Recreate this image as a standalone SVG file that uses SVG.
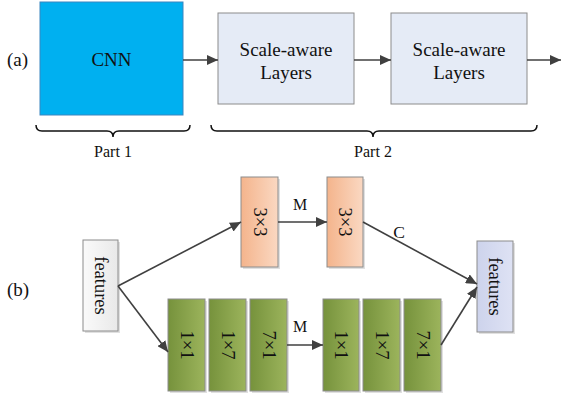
<svg xmlns="http://www.w3.org/2000/svg" width="561" height="401" viewBox="0 0 561 401">
<defs>
<style>
.t18{font-size:18.5px;text-anchor:middle;}
.t19{font-size:19px;text-anchor:middle;}
.t15{font-size:16px;text-anchor:middle;}
.lbl{font-size:19px;}
.box{stroke:#8c8c8c;stroke-width:1;}
.sh{fill:#000;opacity:0.12;}
.con{stroke:#404040;stroke-width:1.6;fill:none;}
.brace{stroke:#111;stroke-width:1.5;fill:none;}
</style>
<marker id="ah" markerUnits="userSpaceOnUse" markerWidth="12" markerHeight="10" refX="11" refY="5" orient="auto">
<path d="M0,0 L11,5 L0,10 Z" fill="#404040"/>
</marker>
<linearGradient id="gOr" x1="0" y1="0" x2="1" y2="0">
<stop offset="0" stop-color="#F4B48C"/><stop offset="1" stop-color="#FAD8C2"/>
</linearGradient>
<linearGradient id="gGr" x1="0" y1="0" x2="1" y2="0">
<stop offset="0" stop-color="#76923C"/><stop offset="1" stop-color="#9CB45C"/>
</linearGradient>
<linearGradient id="gLv" x1="0" y1="0" x2="1" y2="0">
<stop offset="0" stop-color="#CDD3EC"/><stop offset="1" stop-color="#DEE2F4"/>
</linearGradient>
<linearGradient id="gWh" x1="0" y1="0" x2="1" y2="0">
<stop offset="0" stop-color="#FAFAFA"/><stop offset="1" stop-color="#E9E9E9"/>
</linearGradient>
</defs>
<g font-family="Liberation Serif, DejaVu Serif, serif" fill="#111">
<text class="lbl" x="7" y="66">(a)</text>
<text class="lbl" x="7" y="296">(b)</text>

<g id="cnn">
<rect x="40" y="2" width="143" height="113" fill="#00B0F0" stroke="#3a86c0" stroke-width="1"/>
<text class="t19" x="111.5" y="66">CNN</text>
</g>
<g id="scale1">
<rect class="box" x="218" y="13" width="136" height="91" fill="#E5EBF6"/>
<text class="t19" x="286" y="56">Scale-aware</text>
<text class="t19" x="286" y="79">Layers</text>
</g>
<g id="scale2">
<rect class="box" x="391" y="13" width="136" height="91" fill="#E5EBF6"/>
<text class="t19" x="459" y="56">Scale-aware</text>
<text class="t19" x="459" y="79">Layers</text>
</g>

<g id="part1">
<path class="brace" d="M36,125 Q36,131 42,131 H107 Q113,131 113,137 Q113,131 119,131 H184 Q190,131 190,125"/>
<text class="t15" x="113" y="157">Part 1</text>
</g>
<g id="part2">
<path class="brace" d="M211,125 Q211,131 217,131 H367 Q373,131 373,137 Q373,131 379,131 H531 Q537,131 537,125"/>
<text class="t15" x="373" y="157">Part 2</text>
</g>

<g id="featL">
<rect class="sh" x="85" y="242" width="35" height="91"/>
<rect class="box" x="83" y="240" width="35" height="91" fill="url(#gWh)"/>
<text class="t18" transform="translate(100.5,285.5) rotate(90)" y="6">features</text>
</g>
<g id="or1">
<rect class="sh" x="243" y="179" width="37" height="90"/>
<rect class="box" x="241" y="177" width="37" height="90" fill="url(#gOr)"/>
<text class="t18" transform="translate(259.5,222) rotate(90)" y="6">3×3</text>
</g>
<g id="or2">
<rect class="sh" x="329" y="179" width="36" height="90"/>
<rect class="box" x="327" y="177" width="36" height="90" fill="url(#gOr)"/>
<text class="t18" transform="translate(345,222) rotate(90)" y="6">3×3</text>
</g>
<g id="gr1">
<rect class="sh" x="170" y="301" width="37" height="92"/>
<rect class="box" x="168" y="299" width="37" height="92" fill="url(#gGr)"/>
<text class="t18" transform="translate(186.5,345) rotate(90)" y="6">1×1</text>
</g>
<g id="gr2">
<rect class="sh" x="211" y="301" width="37" height="92"/>
<rect class="box" x="209" y="299" width="37" height="92" fill="url(#gGr)"/>
<text class="t18" transform="translate(227.5,345) rotate(90)" y="6">1×7</text>
</g>
<g id="gr3">
<rect class="sh" x="252" y="301" width="37" height="92"/>
<rect class="box" x="250" y="299" width="37" height="92" fill="url(#gGr)"/>
<text class="t18" transform="translate(268.5,345) rotate(90)" y="6">7×1</text>
</g>
<g id="gr4">
<rect class="sh" x="325" y="301" width="36" height="92"/>
<rect class="box" x="323" y="299" width="36" height="92" fill="url(#gGr)"/>
<text class="t18" transform="translate(341,345) rotate(90)" y="6">1×1</text>
</g>
<g id="gr5">
<rect class="sh" x="365" y="301" width="37" height="92"/>
<rect class="box" x="363" y="299" width="37" height="92" fill="url(#gGr)"/>
<text class="t18" transform="translate(381.5,345) rotate(90)" y="6">1×7</text>
</g>
<g id="gr6">
<rect class="sh" x="406" y="301" width="37" height="92"/>
<rect class="box" x="404" y="299" width="37" height="92" fill="url(#gGr)"/>
<text class="t18" transform="translate(422.5,345) rotate(90)" y="6">7×1</text>
</g>
<g id="featR">
<rect class="sh" x="479" y="243" width="36" height="91"/>
<rect class="box" x="477" y="241" width="36" height="91" fill="url(#gLv)"/>
<text class="t18" transform="translate(495,286.5) rotate(90)" y="6">features</text>
</g>

<g id="connectors">
<path class="con" d="M183,60 H218" marker-end="url(#ah)"/>
<path class="con" d="M354,60 H391" marker-end="url(#ah)"/>
<path class="con" d="M527,60 H561" marker-end="url(#ah)"/>
<path class="con" d="M118,286 L241,222" marker-end="url(#ah)"/>
<path class="con" d="M118,286 L168,352" marker-end="url(#ah)"/>
<path class="con" d="M278,222 H327" marker-end="url(#ah)"/>
<path class="con" d="M363,222 L477,284" marker-end="url(#ah)"/>
<path class="con" d="M287,345 H323" marker-end="url(#ah)"/>
<path class="con" d="M441,345 L477,287" marker-end="url(#ah)"/>
<text class="t15" x="300" y="210">M</text>
<text class="t15" x="300" y="332">M</text>
<text class="t15" x="399" y="238" style="font-size:17.5px">C</text>
</g>
</g>
</svg>
